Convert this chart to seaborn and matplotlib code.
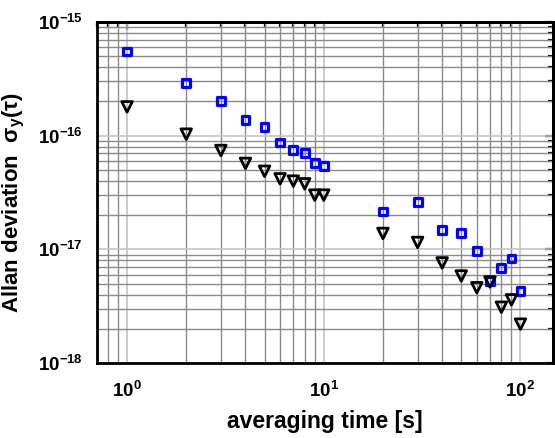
import matplotlib
matplotlib.use("Agg")
import matplotlib.pyplot as plt
import matplotlib.ticker as mticker
import numpy as np
import pandas as pd
import seaborn as sns

# ---- data ----
tau = [1, 2, 3, 4, 5, 6, 7, 8, 9, 10, 20, 30, 40, 50, 60, 70, 80, 90, 100]
sigma_blue = [5.5e-16, 2.9e-16, 2.0e-16, 1.38e-16, 1.19e-16, 8.7e-17, 7.5e-17,
              7.0e-17, 5.75e-17, 5.4e-17, 2.15e-17, 2.6e-17, 1.47e-17, 1.4e-17,
              9.7e-18, 5.25e-18, 6.8e-18, 8.3e-18, 4.3e-18]
sigma_black = [1.79e-16, 1.03e-16, 7.4e-17, 5.7e-17, 4.86e-17, 4.17e-17, 3.98e-17,
               3.77e-17, 3.0e-17, 3.0e-17, 1.38e-17, 1.15e-17, 7.6e-18, 5.83e-18,
               4.6e-18, 5.17e-18, 3.1e-18, 3.6e-18, 2.2e-18]
x_major_ticks = [1, 10, 100]
y_major_ticks = [1e-18, 1e-17, 1e-16, 1e-15]
x_label = "averaging time [s]"
y_label = "Allan deviation  σ$_\\mathbf{y}$(τ)"

sns.set_style("white")
plt.rcParams['font.family'] = ['Liberation Sans', 'DejaVu Sans']
plt.rcParams['mathtext.fontset'] = 'custom'
plt.rcParams['mathtext.rm'] = 'Liberation Sans:bold'
plt.rcParams['mathtext.bf'] = 'Liberation Sans:bold'
plt.rcParams['mathtext.it'] = 'Liberation Sans:bold'
for k in ['text.color', 'axes.labelcolor', 'xtick.color', 'ytick.color', 'axes.edgecolor']:
    plt.rcParams[k] = 'black'

df_blue = pd.DataFrame({"tau": tau, "sigma": sigma_blue})
df_black = pd.DataFrame({"tau": tau, "sigma": sigma_black})

fig = plt.figure(figsize=(5.55, 4.38), dpi=100)
ax = fig.add_axes([0.174, 0.171, 0.822, 0.779])
ax.set_xscale("log")
ax.set_yscale("log")

sns.scatterplot(data=df_blue, x="tau", y="sigma", ax=ax, marker="s", s=32,
                color="blue", facecolor="none", edgecolor="blue", linewidth=2.3,
                zorder=5)
sns.scatterplot(data=df_black, x="tau", y="sigma", ax=ax, marker="v", s=58,
                color="black", facecolor="none", edgecolor="black", linewidth=2.0,
                zorder=5)
for coll in ax.collections:
    coll.set_facecolor("none")

ax.set_xlim(0.7, 146)
ax.set_ylim(1e-18, 1e-15)

def fmt(v, pos):
    e = int(round(np.log10(v)))
    return r"$\mathbf{10^{%d}}$" % e

ax.xaxis.set_major_locator(mticker.FixedLocator(x_major_ticks))
ax.yaxis.set_major_locator(mticker.FixedLocator(y_major_ticks))
ax.xaxis.set_minor_locator(mticker.LogLocator(base=10, subs=np.arange(2, 10), numticks=20))
ax.yaxis.set_minor_locator(mticker.LogLocator(base=10, subs=np.arange(2, 10), numticks=20))
ax.xaxis.set_major_formatter(mticker.FuncFormatter(fmt))
ax.yaxis.set_major_formatter(mticker.FuncFormatter(fmt))
ax.xaxis.set_minor_formatter(mticker.NullFormatter())
ax.yaxis.set_minor_formatter(mticker.NullFormatter())

ax.grid(True, which="minor", color="#8a8a8a", linewidth=1.0, zorder=0)
ax.grid(True, which="major", color="#c4c4c4", linewidth=1.2, zorder=0)
ax.set_axisbelow(True)

for sp in ax.spines.values():
    sp.set_linewidth(2.0)
    sp.set_color("black")

ax.tick_params(which="major", direction="out", length=6, width=1.6, labelsize=13.5,
               top=False, right=False, pad=4, colors="black")
ax.tick_params(which="minor", direction="out", length=3.5, width=1.6,
               top=False, right=False)
ax.tick_params(axis="x", which="major", pad=7)

sec_x = ax.secondary_xaxis("top")
sec_x.xaxis.set_major_locator(mticker.FixedLocator(x_major_ticks))
sec_x.xaxis.set_minor_locator(mticker.LogLocator(base=10, subs=np.arange(2, 10), numticks=20))
sec_x.tick_params(which="major", direction="in", length=6, width=1.6, labeltop=False)
sec_x.tick_params(which="minor", direction="in", length=3.5, width=1.6)
sec_x.spines["top"].set_linewidth(2.0)

sec_y = ax.secondary_yaxis("right")
sec_y.yaxis.set_major_locator(mticker.FixedLocator(y_major_ticks))
sec_y.yaxis.set_minor_locator(mticker.LogLocator(base=10, subs=np.arange(2, 10), numticks=20))
sec_y.tick_params(which="major", direction="in", length=6, width=1.6, labelright=False)
sec_y.tick_params(which="minor", direction="in", length=3.5, width=1.6)
sec_y.spines["right"].set_linewidth(2.0)

ax.set_xlabel(x_label, fontsize=16.5, fontweight="bold", labelpad=6)
ax.set_ylabel(y_label, fontsize=16, fontweight="bold")
ax.yaxis.set_label_coords(-0.152, 0.47)

fig.savefig("out.png", dpi=100)
